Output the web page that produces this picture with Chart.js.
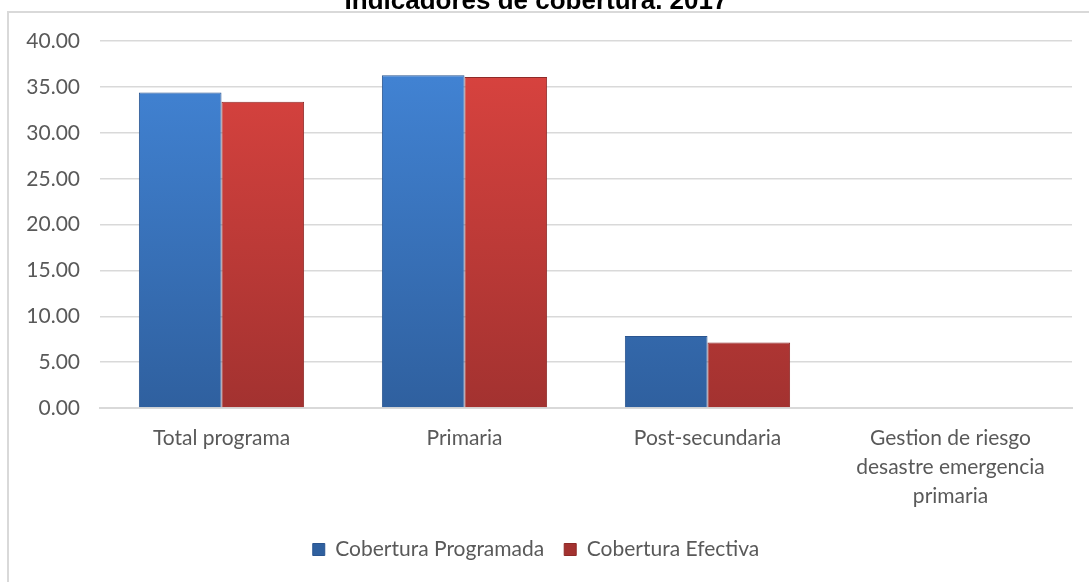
<!DOCTYPE html>
<html>
<head>
<meta charset="utf-8">
<script src="https://cdn.jsdelivr.net/npm/chart.js@4/dist/chart.umd.min.js"></script>
<style>
  html, body { margin: 0; padding: 0; background: #fff; overflow: hidden; }
  #frame { position: absolute; left: 7px; top: 11px; width: 1200px; height: 700px; border: 2px solid #d9d9d9; }
  #wrap { position: absolute; left: 0; top: -16px; width: 1089px; height: 598px; }
</style>
</head>
<body>
<div id="frame"></div>
<div id="wrap"><canvas id="chart"></canvas></div>
<script>
const categories = ['Total programa', 'Primaria', 'Post-secundaria', ['Gestion de riesgo', 'desastre emergencia', 'primaria']];
const programada = [34.4, 36.3, 7.85, 0];
const efectiva = [33.4, 36.1, 7.15, 0];
const yTicks = [0, 5, 10, 15, 20, 25, 30, 35, 40];

// vertical gradient for the bars, solid colour before layout is known
function barFill(top, bottom) {
  return function (c) {
    const area = c.chart.chartArea;
    if (!area) return top;
    const g = c.chart.ctx.createLinearGradient(0, area.top, 0, area.bottom);
    g.addColorStop(0, top);
    g.addColorStop(1, bottom);
    return g;
  };
}

const ctx = document.getElementById('chart');

new Chart(ctx, {
  type: 'bar',
  data: {
    labels: categories,
    datasets: [
      {
        label: 'Cobertura Programada',
        data: programada,
        backgroundColor: barFill('#4386d8', '#2f609f'),
        borderColor: '#2a5590',
        borderWidth: 1
      },
      {
        label: 'Cobertura Efectiva',
        data: efectiva,
        backgroundColor: barFill('#dc4440', '#a33230'),
        borderColor: '#8e2a28',
        borderWidth: 1
      }
    ]
  },
  options: {
    responsive: true,
    maintainAspectRatio: false,
    animation: false,
    layout: { padding: { left: 0, right: 17, bottom: 12 } },
    datasets: { bar: { categoryPercentage: 0.68, barPercentage: 1 } },
    scales: {
      x: {
        afterFit: function (s) { s.height = 111; },
        grid: { display: false },
        border: { color: '#d9d9d9', width: 2 },
        ticks: {
          color: '#595959',
          font: { family: 'Lato', size: 21, lineHeight: 1.38 },
          padding: 8,
          maxRotation: 0,
          autoSkip: false
        }
      },
      y: {
        min: 0,
        max: 40,
        afterFit: function (s) { s.width = 100; },
        afterBuildTicks: function (s) { s.ticks = yTicks.map(v => ({ value: v })); },
        grid: { color: '#d9d9d9', lineWidth: 1.5, drawTicks: false },
        border: { display: false },
        ticks: {
          color: '#595959',
          font: { family: 'Lato', size: 21 },
          padding: 20,
          callback: v => Number(v).toFixed(2)
        }
      }
    },
    plugins: {
      title: {
        display: true,
        text: 'Indicadores de cobertura. 2017',
        color: '#000',
        font: { family: 'Liberation Sans', size: 26, weight: 'bold' },
        padding: { top: 2, bottom: 24 }
      },
      legend: {
        position: 'bottom',
        labels: {
          color: '#595959',
          font: { family: 'Lato', size: 21 },
          boxWidth: 12,
          boxHeight: 12,
          padding: 20
        }
      },
      tooltip: { enabled: false }
    }
  }
});
</script>
</body>
</html>
